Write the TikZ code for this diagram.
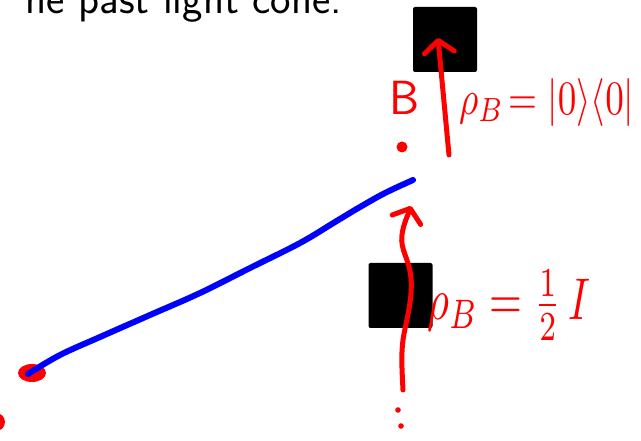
\documentclass[tikz,border=0pt]{standalone}
\usepackage{amsmath}
\usepackage{graphicx}
\usetikzlibrary{arrows.meta}
\begin{document}
\begin{tikzpicture}[x=1pt,y=-1pt,
  box/.style={fill=black, rounded corners=2pt, minimum width=64pt, minimum height=65pt, inner sep=0pt},
  ink/.style={red, line width=5pt, line cap=round, line join=round},
  blueink/.style={blue, line width=6pt, line cap=round, line join=round},
  handtip/.style={-{Straight Barb[length=12pt,width=30pt,line width=5pt,round]}},
  lbl/.style={red, inner sep=0pt}]
\useasboundingbox (0,0) rectangle (641,441);
\clip (0,0) rectangle (641,441);
% title fragment
\node[anchor=base east, inner sep=0pt, font=\sffamily\fontsize{43.5}{46}\selectfont] (title) at (342,14) {he past light cone.};
% boxes
\node[box] (topbox) at (445,39.5) {};
\node[box] (lowbox) at (400.5,295.5) {};
% top arrow
\coordinate (ta0) at (449,155);
\coordinate (ta1) at (438,38);
\draw[ink, handtip] (ta0) -- (ta1);
% label B and dot
\node[lbl, font=\sffamily\fontsize{48}{50}\selectfont] (Blab) at (405,98) {B};
\fill[red] (402,147) circle (5.5) coordinate (bdot);
\node[lbl, anchor=north west] (rhotop) at (459,78) {\resizebox*{175pt}{48pt}{$\rho_B\!=|0\rangle\langle 0|$}};
% blue line
\coordinate (bstart) at (28,374);
\coordinate (bend) at (413,180);
\fill[red] (32,373) ellipse (14 and 9) coordinate (blob);
\draw[blueink] plot[smooth, tension=0.6] coordinates {(28,374) (60,355) (100,337) (150,315) (200,293) (250,268) (300,243) (335,222) (360,207) (385,193) (413,180)};
\fill[red] (-4,422) circle (9) coordinate (leftdot);
% lower wavy arrow
\coordinate (la0) at (403,390);
\coordinate (la1) at (411,206);
\draw[ink, handtip] (la0) .. controls (402,370) and (401,355) .. (403,340) .. controls (405,325) and (413,300) .. (411,278) .. controls (409,258) and (400,250) .. (402,235) .. controls (403,225) and (408,215) .. (la1);
\fill[red] (398,410) circle (2.8) coordinate (d1);
\fill[red] (401,426) circle (2.8) coordinate (d2);
\node[lbl, anchor=north west] (rholow) at (427,270) {\resizebox*{163pt}{70pt}{$\rho_B = \frac{1}{2}\, I$}};
\end{tikzpicture}
\end{document}
